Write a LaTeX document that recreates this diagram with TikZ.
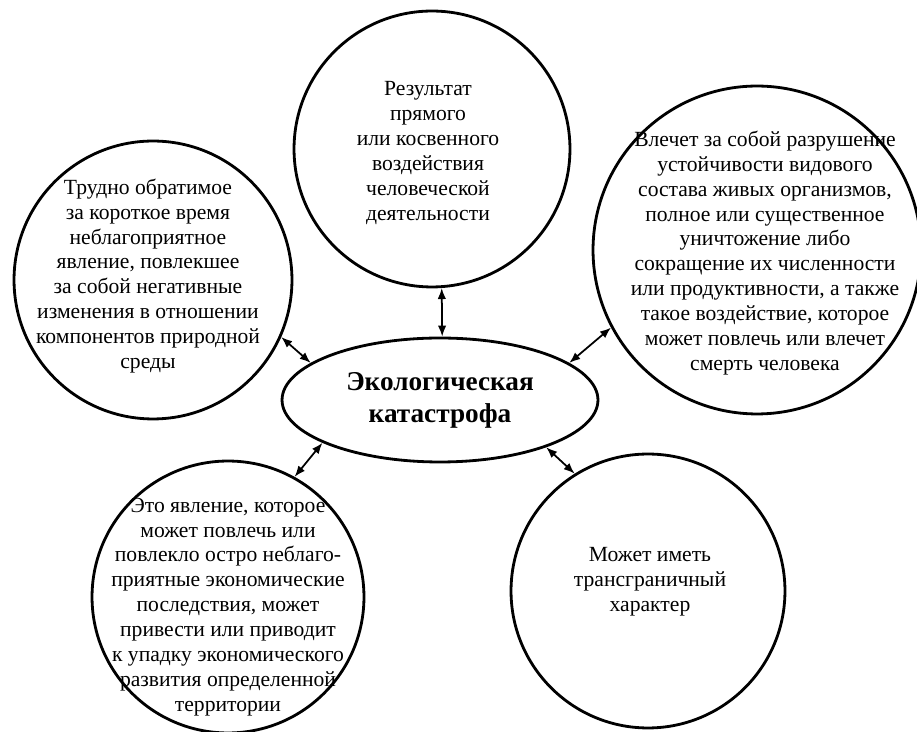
\documentclass[tikz,border=0pt]{standalone}
\usepackage{fontspec}
\setmainfont{Liberation Serif}
\usetikzlibrary{positioning,arrows.meta,shapes.geometric,calc}

\begin{document}
\begin{tikzpicture}[x=0.02cm,y=-0.02cm,
  ring/.style={draw,circle,line width=1.6pt,inner sep=0pt},
  txt/.style={align=center,inner sep=0pt,font=\fontsize{12.3}{14.2}\selectfont},
  hub/.style={draw,ellipse,line width=1.6pt,minimum width=6.32cm,minimum height=2.48cm,
    align=center,font=\fontsize{15.5}{18.2}\selectfont\bfseries},
  link/.style={line width=1pt,{Latex[length=2.2mm,width=1.7mm]}-{Latex[length=2.2mm,width=1.7mm]}}]

\useasboundingbox (0,0) rectangle (917,732);

% centre
\node[hub] (eko) at (440,400) {Экологическая\\катастрофа};

% circles round it
\node[ring,minimum size=5.52cm] (res) at (432,149) {};
\node[ring,minimum size=5.56cm] (tru) at (153,280) {};
\node[ring,minimum size=6.56cm] (vle) at (757,250) {};
\node[ring,minimum size=5.44cm] (eto) at (228,597) {};
\node[ring,minimum size=5.48cm] (mog) at (648,591) {};

% their texts
\node[txt] (res-t) at (428,153) {Результат\\прямого\\или косвенного\\воздействия\\человеческой\\деятельности};
\node[txt] (tru-t) at (148,276) {Трудно обратимое\\за короткое время\\неблагоприятное\\явление, повлекшее\\за собой негативные\\изменения в отношении\\компонентов природной\\среды};
\node[txt] (vle-t) at (765,253) {Влечет за собой разрушение\\устойчивости видового\\состава живых организмов,\\полное или существенное\\уничтожение либо\\сокращение их численности\\или продуктивности, а также\\такое воздействие, которое\\может повлечь или влечет\\смерть человека};
\node[txt] (eto-t) at (228,607) {Это явление, которое\\может повлечь или\\повлекло остро неблаго-\\приятные экономические\\последствия, может\\привести или приводит\\к упадку экономического\\развития определенной\\территории};
\node[txt] (mog-t) at (650,582) {Может иметь\\трансграничный\\характер};

% arrows
\draw[link] (res.-86) -- (eko.88);
\draw[link] (tru.-24) -- (eko.164);
\draw[link] (vle.208) -- (eko.16);
\draw[link] (eko.200) -- (eto.61);
\draw[link] (eko.336) -- (mog.122);

\end{tikzpicture}
\end{document}
